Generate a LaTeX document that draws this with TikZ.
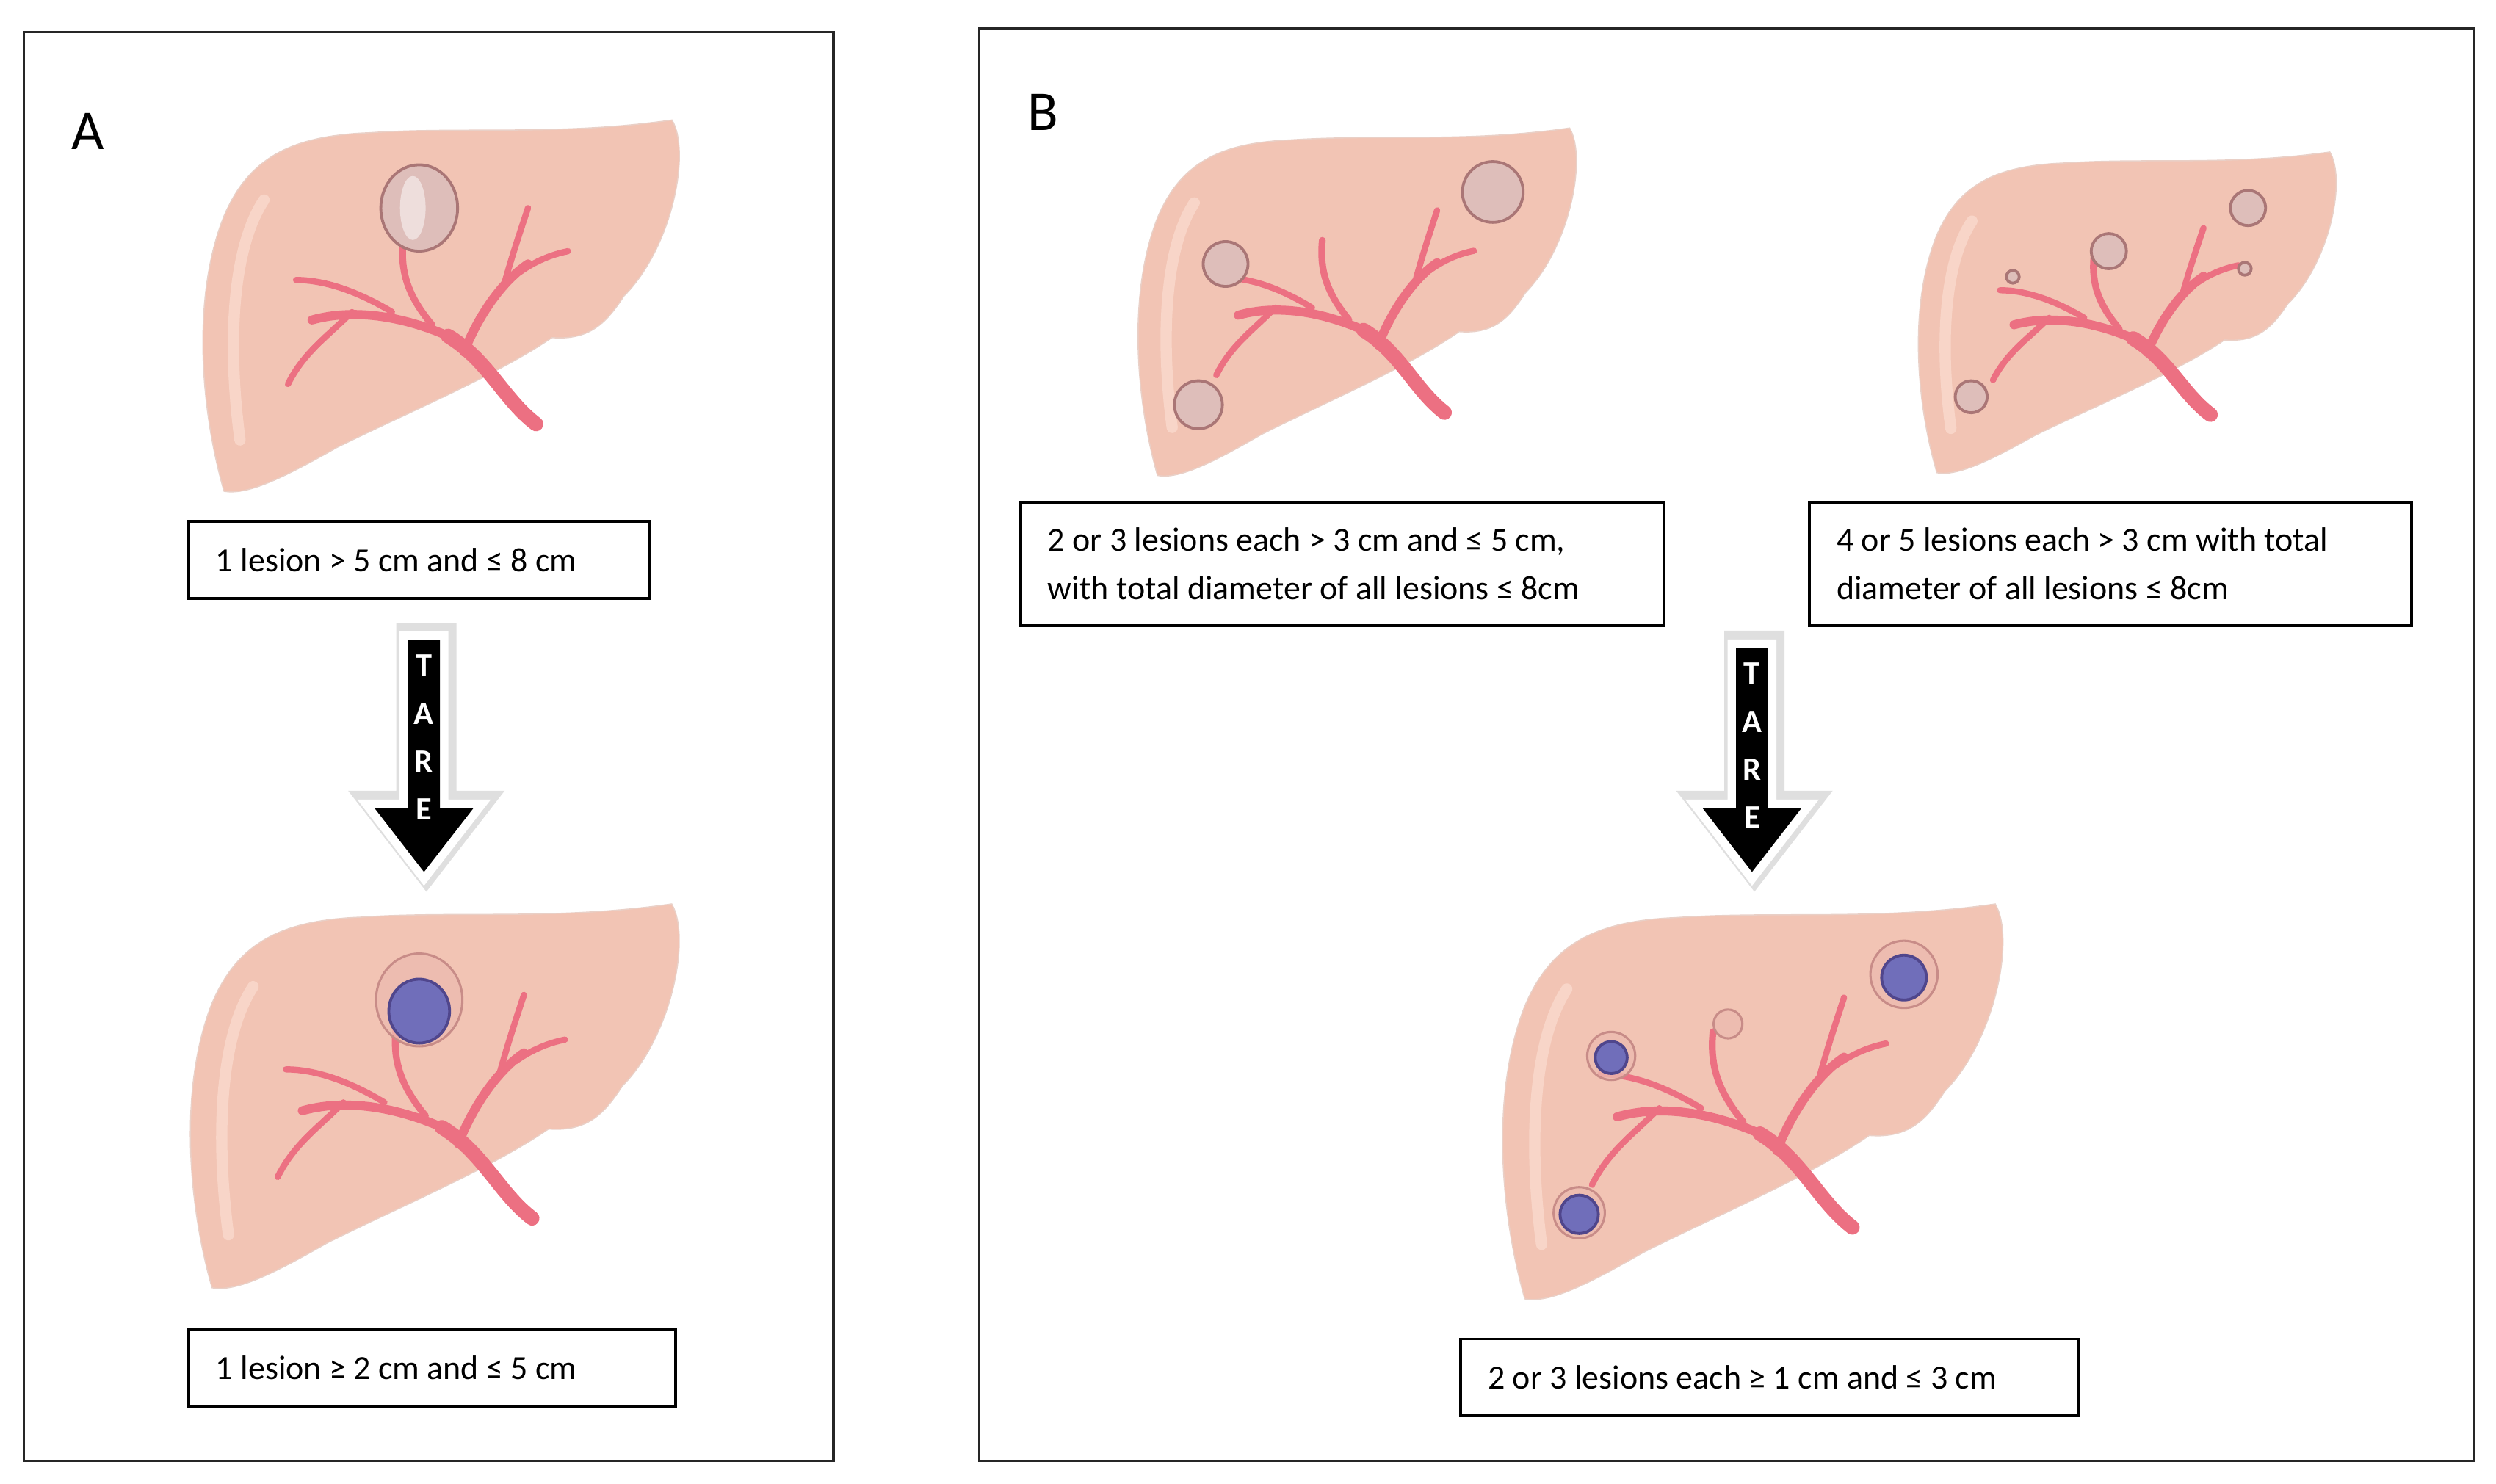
\documentclass[tikz,border=0pt]{standalone}
\usepackage{fontspec}
\setmainfont{Carlito}
\begin{document}
\begin{tikzpicture}[x=0.01cm,y=-0.01cm,
  panel/.style={draw=black!85,line width=0.45pt},
  box/.style={draw=black,line width=0.5pt,fill=white,font=\fontsize{6}{8.6}\selectfont,align=flush left,inner xsep=0.17cm,inner ysep=0pt,anchor=north west},
  lbl/.style={font=\fontsize{10}{12}\selectfont},
  tare/.style={text=white,font=\fontsize{5.8}{6}\selectfont\bfseries,inner sep=0pt},
  liverfill/.style={fill=liver,draw=liver!90!black!60,line width=0.2pt},
  vessel/.style={draw=vess,line cap=round},
  tum/.style={fill=tumc,draw=tumd,line width=0.5pt},
  tumb/.style={fill=tumbl,draw=tumbd,line width=0.5pt},
  halo/.style={fill=halo,draw=halod,line width=0.4pt,fill opacity=0.8}]
\definecolor{liver}{RGB}{242,196,180}
\definecolor{liverhl}{RGB}{250,218,205}
\definecolor{vess}{RGB}{236,112,130}
\definecolor{tumc}{RGB}{222,190,186}
\definecolor{tumd}{RGB}{170,118,118}
\definecolor{tumbl}{RGB}{112,110,186}
\definecolor{tumbd}{RGB}{80,70,140}
\definecolor{halo}{RGB}{236,186,176}
\definecolor{halod}{RGB}{200,140,136}
\path[use as bounding box] (0,0) rectangle (1560,927.5);
\tikzset{liver/.pic={
  \path[liverfill] (20,232) .. controls (5,180) and (0,110) .. (20,60)
     .. controls (35,25) and (60,10) .. (110,8)
     .. controls (170,4) and (230,10) .. (300,0)
     .. controls (312,20) and (300,80) .. (270,110)
     .. controls (260,125) and (250,138) .. (225,136)
     .. controls (190,160) and (130,185) .. (90,205)
     .. controls (60,222) and (35,235) .. (20,232) -- cycle;
  \draw[liverhl,line width=2pt,line cap=round,opacity=0.8] (30,200) .. controls (22,140) and (25,80) .. (45,50);
  \draw[vessel,line width=2.6pt] (215,190) .. controls (195,175) and (185,150) .. (160,135);
  \draw[vessel,line width=1.6pt] (160,135) .. controls (130,122) and (100,118) .. (75,125);
  \draw[vessel,line width=1.1pt] (100,120) .. controls (85,135) and (70,145) .. (60,165);
  \draw[vessel,line width=1.1pt] (125,120) .. controls (100,105) and (80,100) .. (65,100);
  \draw[vessel,line width=1.2pt] (150,128) .. controls (135,110) and (130,95) .. (132,75);
  \draw[vessel,line width=1.6pt] (170,145) .. controls (180,120) and (195,100) .. (210,90);
  \draw[vessel,line width=1.1pt] (195,103) .. controls (200,85) and (205,70) .. (210,55);
  \draw[vessel,line width=1.1pt] (205,95) .. controls (215,88) and (225,84) .. (235,82);
}}
% panels
\draw[panel] (15,20) rectangle (521,913);
\draw[panel] (612,18) rectangle (1546,913);
\node[lbl] (la) at (55,82) {A};
\node[lbl] (lb) at (652,70) {B};
% livers
\pic[shift={(120,75)}] {liver};
\pic[shift={(112,565)},xscale=1.026,yscale=1.034] {liver};
\pic[shift={(705,80)},xscale=0.92,yscale=0.936] {liver};
\pic[shift={(1193,95)},xscale=0.877,yscale=0.864] {liver};
\pic[shift={(932,565)},xscale=1.05,yscale=1.064] {liver};
% tumours A
\draw[tum] (262,130) circle[x radius=24,y radius=27];
\fill[white,opacity=0.5] (258,130) ellipse[x radius=8,y radius=20];
\draw[halo] (262,625) circle[x radius=27,y radius=29];
\draw[tumb] (262,632) circle[x radius=19,y radius=20];
% tumours B1
\draw[tum] (766,165) circle[radius=14];
\draw[tum] (933,120) circle[radius=19];
\draw[tum] (749,253) circle[radius=15];
% tumours B2
\draw[tum] (1405,130) circle[radius=11];
\draw[tum] (1318,157) circle[radius=11];
\draw[tum] (1258,173) circle[radius=4];
\draw[tum] (1403,168) circle[radius=4];
\draw[tum] (1232,248) circle[radius=10];
% tumours B3
\draw[halo] (1190,609) circle[radius=21];
\draw[tumb] (1190,611) circle[radius=14];
\draw[halo] (1007,660) circle[radius=15];
\draw[tumb] (1007,661) circle[radius=10];
\draw[halo] (1080,640) circle[radius=9];
\draw[halo] (987,758) circle[radius=16];
\draw[tumb] (987,759) circle[radius=12];
% boxes
\node[box,text width=2.54cm,minimum height=0.48cm] (a1) at (117,325) {1 lesion > 5 cm and ≤ 8 cm};
\node[box,text width=2.70cm,minimum height=0.48cm] (a2) at (117,830) {1 lesion ≥ 2 cm and ≤ 5 cm};
\node[box,text width=3.68cm,minimum height=0.77cm] (b1) at (637,313) {2 or 3 lesions each > 3 cm and ≤ 5 cm,\\with total diameter of all lesions ≤ 8cm};
\node[box,text width=3.42cm,minimum height=0.77cm] (b2) at (1130,313) {4 or 5 lesions each > 3 cm with total\\diameter of all lesions ≤ 8cm};
\node[box,text width=3.52cm,minimum height=0.48cm] (b3) at (912,836) {2 or 3 lesions each ≥ 1 cm and ≤ 3 cm};
% arrows
\foreach \cx/\ty/\hy/\tip/\nm in {265/400/505/545/ta,1095/405/505/545/tb}{
  \draw[black!25,line width=5pt,line join=miter,opacity=0.5,shift={(1.5,-2)}]
     (\cx-10,\ty) -- (\cx+10,\ty) -- (\cx+10,\hy) -- (\cx+31,\hy) -- (\cx,\tip) -- (\cx-31,\hy) -- (\cx-10,\hy) -- cycle;
  \draw[white,line width=3pt,line join=miter,fill=black]
     (\cx-10,\ty) -- (\cx+10,\ty) -- (\cx+10,\hy) -- (\cx+31,\hy) -- (\cx,\tip) -- (\cx-31,\hy) -- (\cx-10,\hy) -- cycle;
  \fill[black] (\cx-10,\ty) -- (\cx+10,\ty) -- (\cx+10,\hy) -- (\cx+31,\hy) -- (\cx,\tip) -- (\cx-31,\hy) -- (\cx-10,\hy) -- cycle;
  \node[tare] (\nm1) at (\cx,\ty+16) {T};
  \node[tare] (\nm2) at (\cx,\ty+46) {A};
  \node[tare] (\nm3) at (\cx,\ty+76) {R};
  \node[tare] (\nm4) at (\cx,\ty+106) {E};
}
\end{tikzpicture}
\end{document}
